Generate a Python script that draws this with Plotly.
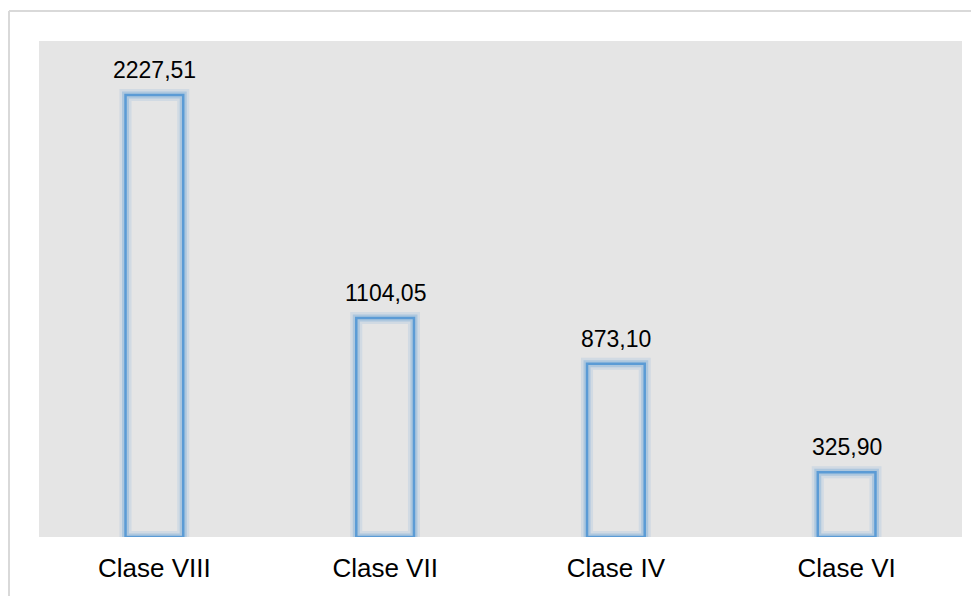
import plotly.graph_objects as go

categories = ["Clase VIII", "Clase VII", "Clase IV", "Clase VI"]
values = [2227.51, 1104.05, 873.10, 325.90]

BLUE = "#5B9BD5"
BORDER = "#D9D9D9"
FONT = "Liberation Sans, Arial, sans-serif"

fig = go.Figure()

# soft glow behind the outline: two faint wide strokes
for glow_w, glow_a in [(12, 0.15), (7, 0.3)]:
    fig.add_trace(go.Bar(
        x=categories, y=values, width=0.25,
        marker=dict(color="rgba(0,0,0,0)",
                    line=dict(color=f"rgba(91,155,213,{glow_a})", width=glow_w)),
        hoverinfo="skip", showlegend=False,
    ))

fig.add_trace(go.Bar(
    x=categories, y=values, width=0.25,
    marker=dict(color="rgba(0,0,0,0)", line=dict(color=BLUE, width=2.5)),
    showlegend=False,
))

# value labels above the bars, with decimal comma
for cat, val in zip(categories, values):
    fig.add_annotation(
        x=cat, y=val, text=f"{val:.2f}".replace(".", ","),
        showarrow=False, yanchor="bottom", yshift=10,
        font=dict(family=FONT, size=23, color="#000000"),
    )

# outer frame (only top and left edges fall inside the window)
frame = [
    dict(x0=-0.0325, x1=1.2, y0=1.0605, y1=1.0605),
    dict(x0=-0.0325, x1=-0.0325, y0=-0.3, y1=1.0605),
]

# page has an 8px body margin, so the figure is sized/offset to compensate
fig.update_layout(
    width=971, height=588,
    autosize=False,
    barmode="overlay",
    margin=dict(l=31, r=17, t=33, b=59),
    paper_bgcolor="#FFFFFF",
    plot_bgcolor="#E5E5E5",
    font=dict(family=FONT, size=26, color="#000000"),
    shapes=[dict(type="line", xref="paper", yref="paper",
                 line=dict(color=BORDER, width=2), layer="below", **f)
            for f in frame],
)
fig.update_xaxes(showgrid=False, zeroline=False, showline=False,
                 ticks="", ticklabelstandoff=13,
                 tickfont=dict(family=FONT, size=26, color="#000000"))
fig.update_yaxes(range=[0, 2500], visible=False, showgrid=False, zeroline=False)

fig.write_html("out.html")
